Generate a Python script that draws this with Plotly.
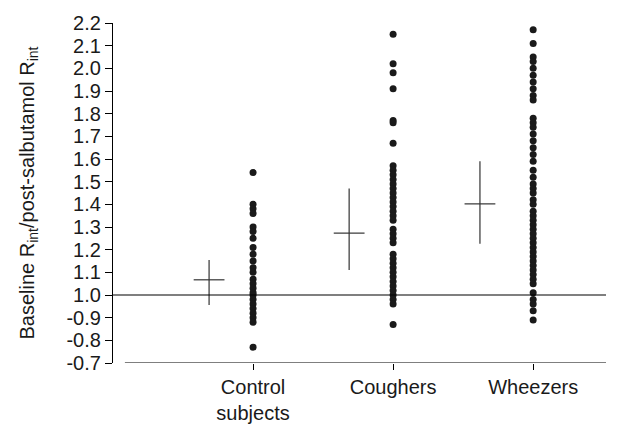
import plotly.graph_objects as go

categories = ["Control<br>subjects", "Coughers", "Wheezers"]
cat_pos = [1, 2, 3]

control_vals = [1.54, 1.40, 1.38, 1.36, 1.30, 1.28, 1.25, 1.21, 1.18, 1.15, 1.12, 1.10,
                1.07, 1.05, 1.03, 1.01, 1.00, 0.98, 0.96, 0.94, 0.92, 0.90, 0.88, 0.77]
coughers_vals = [2.15, 2.02, 1.98, 1.91, 1.77, 1.76, 1.67, 1.57, 1.55, 1.53, 1.51, 1.49,
                 1.47, 1.45, 1.43, 1.41, 1.39, 1.37, 1.35, 1.33, 1.29, 1.27, 1.25, 1.23,
                 1.18, 1.16, 1.14, 1.12, 1.10, 1.08, 1.06, 1.04, 1.02, 1.00, 0.98, 0.96,
                 0.87]
wheezers_vals = [2.17, 2.11, 2.05, 2.03, 2.00, 1.97, 1.94, 1.91, 1.88, 1.86, 1.78, 1.76,
                 1.74, 1.71, 1.68, 1.65, 1.62, 1.59, 1.55, 1.52, 1.49, 1.47, 1.45, 1.42,
                 1.40, 1.37, 1.35, 1.33, 1.31, 1.29, 1.27, 1.25, 1.23, 1.21, 1.19, 1.17,
                 1.15, 1.13, 1.11, 1.09, 1.07, 1.05, 1.01, 0.98, 0.96, 0.93, 0.89]

cross_pos = [0.686, 1.686, 2.62]
means = [1.067, 1.273, 1.402]
upper = [1.154, 1.47, 1.59]
lower = [0.956, 1.11, 1.226]

ytick_vals = [0.7, 0.8, 0.9, 1.0, 1.1, 1.2, 1.3, 1.4, 1.5, 1.6, 1.7, 1.8, 1.9, 2.0, 2.1, 2.2]
ytick_text = ["-0.7", "-0.8", "-0.9", "1.0", "1.1", "1.2", "1.3", "1.4", "1.5", "1.6",
              "1.7", "1.8", "1.9", "2.0", "2.1", "2.2"]

FONT = "Liberation Sans Narrow, Arial Narrow, Liberation Sans, Arial, sans-serif"

fig = go.Figure()
for pos, vals in zip(cat_pos, [control_vals, coughers_vals, wheezers_vals]):
    fig.add_trace(go.Scatter(
        x=[pos] * len(vals), y=vals, mode="markers",
        marker=dict(color="#1a1a1a", size=7, line=dict(width=0)),
        showlegend=False, hoverinfo="y"))

fig.add_trace(go.Scatter(
    x=cross_pos, y=means, mode="markers",
    marker=dict(symbol="line-ew-open", size=22, color="#333333",
                line=dict(color="#333333", width=1.2)),
    error_y=dict(type="data", symmetric=False,
                 array=[u - m for u, m in zip(upper, means)],
                 arrayminus=[m - l for m, l in zip(means, lower)],
                 width=0, thickness=1.2, color="#333333"),
    showlegend=False))

# reference line at 1.0 and bottom axis line
fig.add_shape(type="line", xref="x", yref="y", x0=0, x1=3.52, y0=1.0, y1=1.0,
              line=dict(color="black", width=1.2))
fig.add_shape(type="line", xref="x", yref="y", x0=0.085, x1=3.52, y0=0.7, y1=0.7,
              line=dict(color="black", width=1.2))

fig.update_layout(
    width=613, height=417,
    margin=dict(l=105, r=15, t=15, b=62),
    paper_bgcolor="white", plot_bgcolor="white",
    font=dict(family=FONT, size=18, color="#1a1a1a"),
    xaxis=dict(range=[0, 3.52], tickvals=cat_pos, ticktext=categories,
               ticks="outside", ticklen=6, tickcolor="black", showline=False,
               showgrid=False, zeroline=False, tickfont=dict(size=20),
               automargin=False),
    yaxis=dict(range=[0.7, 2.2], tickvals=ytick_vals, ticktext=ytick_text,
               ticks="outside", ticklen=7, tickcolor="black", showline=True,
               linecolor="black", linewidth=1.2, showgrid=False, zeroline=False,
               tickfont=dict(size=20), automargin=False,
               title=dict(text="Baseline R<sub>int</sub>/post-salbutamol R<sub>int</sub>",
                          font=dict(size=20), standoff=26)),
)

fig.write_html("out.html")
